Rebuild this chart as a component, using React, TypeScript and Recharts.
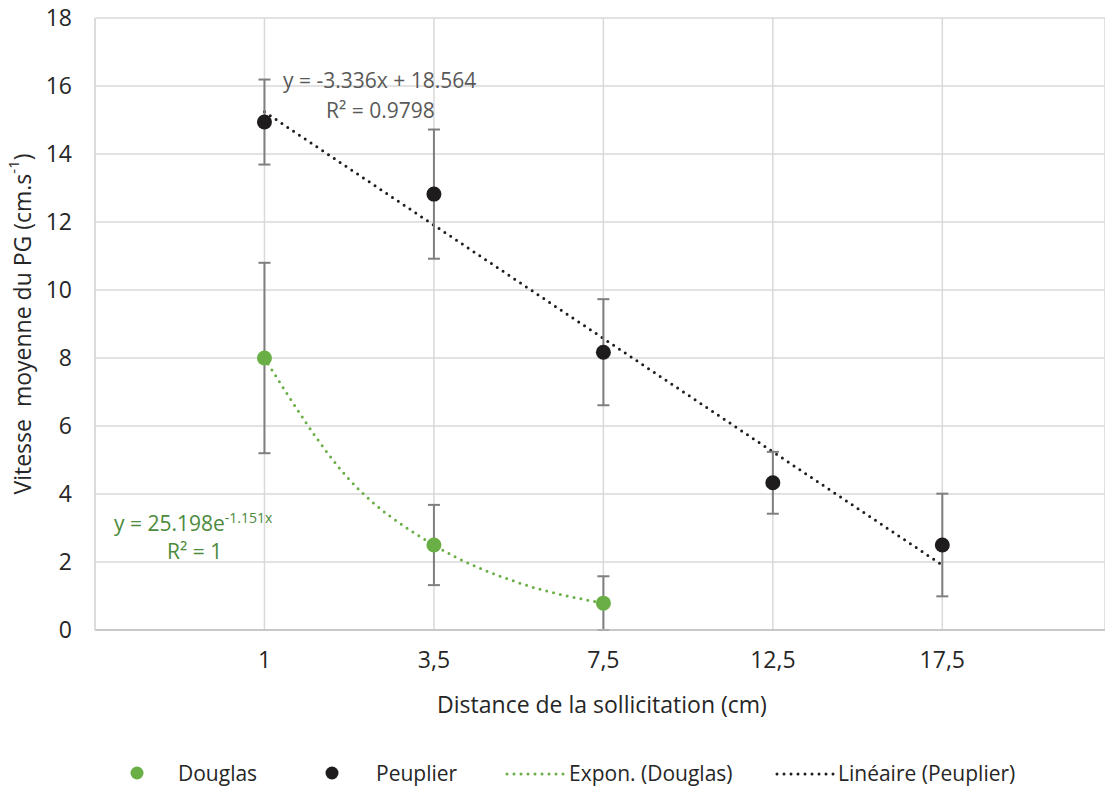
import { ComposedChart, Scatter, Line, XAxis, YAxis, CartesianGrid, ErrorBar } from 'recharts'

const xLabels = ['1', '3,5', '7,5', '12,5', '17,5']
const xPositions = [1, 2, 3, 4, 5]
const yTicks = [0, 2, 4, 6, 8, 10, 12, 14, 16, 18]

const douglasMean = [8.0, 2.5, 0.79]
const douglasErr = [2.8, 1.18, 0.79]
const peuplierMean = [14.94, 12.82, 8.17, 4.33, 2.5]
const peuplierErr = [1.25, 1.9, 1.56, 0.91, 1.51]

// trend lines
const exponX = [1, 1.5, 2, 2.5, 3]
const exponY = [8.0, 4.43, 2.5, 1.39, 0.79]
const linearX = [1, 5]
const linearY = [15.24, 1.91]

const GREEN = '#6aaf46'
const BLACK = '#1f1c1d'
const FONT = '"Open Sans", sans-serif'
const TEXT = '#262626'

const douglas = douglasMean.map((y, i) => ({ x: xPositions[i], y, err: douglasErr[i] }))
const peuplier = peuplierMean.map((y, i) => ({ x: xPositions[i], y, err: peuplierErr[i] }))
const expon = exponX.map((x, i) => ({ x, y: exponY[i] }))
const linear = linearX.map((x, i) => ({ x, y: linearY[i] }))

function dot(color: string) {
  return (props: any) => <circle cx={props.cx} cy={props.cy} r={7.5} fill={color} />
}

function YLabel() {
  return (
    <text
      x={22}
      y={324}
      transform="rotate(-90 22 324)"
      textAnchor="middle"
      dominantBaseline="central"
      fontFamily={FONT}
      fontSize={23}
      fill={TEXT}
      style={{ whiteSpace: 'pre' }}
    >
      Vitesse  moyenne du PG (cm.s<tspan fontSize={15} dy={-9}>-1</tspan>
      <tspan dy={9}>)</tspan>
    </text>
  )
}

function XLabel() {
  return (
    <text x={602} y={713} textAnchor="middle" fontFamily={FONT} fontSize={23} fill={TEXT}>
      Distance de la sollicitation (cm)
    </text>
  )
}

function Overlay() {
  const dotted = { strokeWidth: 3, strokeDasharray: '0 7', strokeLinecap: 'round' as const }
  return (
    <svg
      width={1105}
      height={787}
      style={{ position: 'absolute', left: 0, top: 0, pointerEvents: 'none' }}
      fontFamily={FONT}
    >
      <text x={283} y={88} fontSize={21} fill="#595959">y = -3.336x + 18.564</text>
      <text x={326} y={118} fontSize={21} fill="#595959">R² = 0.9798</text>
      <text x={114} y={531} fontSize={21} fill="#4c8a3c">
        y = 25.198e<tspan fontSize={14} dy={-8}>-1.151x</tspan>
      </text>
      <text x={167} y={559} fontSize={21} fill="#4c8a3c">R² = 1</text>

      <circle cx={137} cy={773} r={6.5} fill={GREEN} />
      <text x={178} y={781} fontSize={21} fill={TEXT}>Douglas</text>
      <circle cx={332} cy={773} r={6.5} fill={BLACK} />
      <text x={376} y={781} fontSize={21} fill={TEXT}>Peuplier</text>
      <line x1={507} y1={774} x2={566} y2={774} stroke={GREEN} {...dotted} />
      <text x={569} y={781} fontSize={21} fill={TEXT}>Expon. (Douglas)</text>
      <line x1={777} y1={774} x2={835} y2={774} stroke={BLACK} {...dotted} />
      <text x={838} y={781} fontSize={21} fill={TEXT}>Linéaire (Peuplier)</text>
    </svg>
  )
}

export default function App() {
  return (
    <div style={{ position: 'absolute', left: 0, top: 0, width: 1105, height: 787, background: '#fff' }}>
      <ComposedChart width={1105} height={787} margin={{ top: 18, right: 0, left: 0, bottom: 67 }}>
        <CartesianGrid stroke="#d9d9d9" strokeWidth={1.5} />
        <XAxis
          type="number"
          dataKey="x"
          domain={[0, 5.96]}
          ticks={xPositions}
          allowDataOverflow
          tickFormatter={(v: number) => xLabels[v - 1]}
          tickLine={false}
          axisLine={{ stroke: '#bfbfbf', strokeWidth: 1.5 }}
          tick={{ fontSize: 23, fill: TEXT, fontFamily: FONT }}
          tickMargin={16}
          height={90}
          label={{ content: () => <XLabel /> }}
        />
        <YAxis
          type="number"
          domain={[0, 18]}
          ticks={yTicks}
          width={95}
          tickLine={false}
          axisLine={{ stroke: '#d9d9d9', strokeWidth: 1.5 }}
          tick={{ fontSize: 23, fill: TEXT, fontFamily: FONT }}
          tickMargin={17}
          label={{ content: () => <YLabel /> }}
        />
        <Line
          data={expon}
          dataKey="y"
          type="monotone"
          stroke={GREEN}
          strokeWidth={3}
          strokeDasharray="0 7"
          strokeLinecap="round"
          dot={false}
          activeDot={false}
          isAnimationActive={false}
        />
        <Line
          data={linear}
          dataKey="y"
          type="linear"
          stroke={BLACK}
          strokeWidth={3}
          strokeDasharray="0 7"
          strokeLinecap="round"
          dot={false}
          activeDot={false}
          isAnimationActive={false}
        />
        <Scatter data={douglas} dataKey="y" fill={GREEN} shape={dot(GREEN)} isAnimationActive={false}>
          <ErrorBar dataKey="err" direction="y" width={6} stroke="#7f7f7f" strokeWidth={2} />
        </Scatter>
        <Scatter data={peuplier} dataKey="y" fill={BLACK} shape={dot(BLACK)} isAnimationActive={false}>
          <ErrorBar dataKey="err" direction="y" width={6} stroke="#7f7f7f" strokeWidth={2} />
        </Scatter>
      </ComposedChart>
      <Overlay />
    </div>
  )
}
